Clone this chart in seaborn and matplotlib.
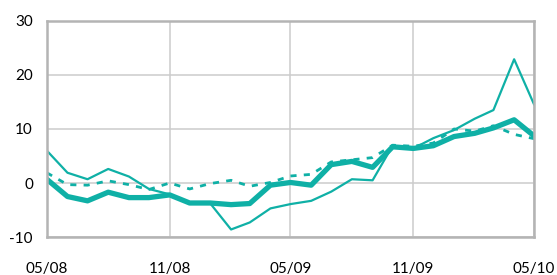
import matplotlib
matplotlib.use('Agg')
import matplotlib.pyplot as plt
import matplotlib.dates as mdates
import seaborn as sns
import pandas as pd

# Datos
meses = pd.date_range('2008-05-01', periods=25, freq='MS')
serie_fina = [6.0, 1.9, 0.7, 2.6, 1.2, -1.1, -2.1, -3.7, -3.8, -8.6, -7.3, -4.7, -3.9,
              -3.3, -1.6, 0.7, 0.5, 6.9, 6.4, 8.3, 9.8, 11.9, 13.5, 22.9, 14.5]
serie_gruesa = [0.7, -2.5, -3.3, -1.7, -2.7, -2.7, -2.2, -3.7, -3.7, -4.0, -3.8, -0.4, 0.1,
                -0.4, 3.4, 4.0, 2.9, 6.7, 6.4, 6.9, 8.6, 9.2, 10.2, 11.7, 8.7]
serie_punteada = [1.9, -0.3, -0.4, 0.4, -0.3, -1.2, 0.0, -1.1, -0.1, 0.5, -0.6, 0.1, 1.3,
                  1.6, 3.9, 4.3, 4.7, 7.0, 6.8, 7.4, 10.0, 9.6, 10.6, 9.0, 8.2]
yticks = [-10, 0, 10, 20, 30]
xticks = ['2008-05-01', '2008-11-01', '2009-05-01', '2009-11-01', '2010-05-01']

sns.set_theme(style='white')
plt.rcParams['font.family'] = ['Lato', 'DejaVu Sans']
plt.rcParams['axes.unicode_minus'] = False

color = '#0fb0a6'
df = pd.DataFrame({'mes': meses, 'fina': serie_fina,
                   'gruesa': serie_gruesa, 'punteada': serie_punteada})

fig = plt.figure(figsize=(5.57, 2.75), dpi=100)
ax = fig.add_axes([0.084, 0.138, 0.875, 0.786])

sns.lineplot(data=df, x='mes', y='fina', color=color, linewidth=1.6, ax=ax)
sns.lineplot(data=df, x='mes', y='punteada', color=color, linewidth=2.0,
             linestyle=(0, (2.2, 2.6)), ax=ax)
sns.lineplot(data=df, x='mes', y='gruesa', color=color, linewidth=3.8, ax=ax)

ax.set_xlim(meses[0], meses[-1])
ax.set_ylim(-10, 30)
ax.set_yticks(yticks)
ax.set_xticks(pd.to_datetime(xticks))
ax.xaxis.set_major_formatter(mdates.DateFormatter('%m/%y'))
ax.set_xlabel('')
ax.set_ylabel('')

ax.grid(True, color='#cccccc', linewidth=1.1)
ax.set_axisbelow(True)
for s in ax.spines.values():
    s.set_color('#b4b4b4')
    s.set_linewidth(1.8)

ax.tick_params(axis='both', length=0, labelsize=11, colors='black')
ax.tick_params(axis='x', pad=18)
ax.tick_params(axis='y', pad=10)

plt.savefig('out.png', dpi=100)
plt.close()
